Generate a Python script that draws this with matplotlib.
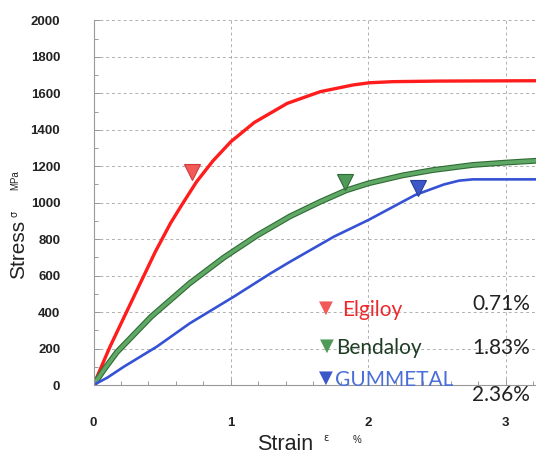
import matplotlib
matplotlib.use("Agg")
import matplotlib.pyplot as plt
from matplotlib.ticker import MultipleLocator

# values
elgiloy_strain = [0, 0.12, 0.24, 0.34, 0.45, 0.56, 0.64, 0.75, 0.87, 1.0, 1.17, 1.41, 1.65, 1.89, 2.01, 2.18, 2.5, 2.8, 3.22]
elgiloy_stress = [0, 210, 400, 558, 731, 887, 985, 1115, 1230, 1335, 1440, 1545, 1609, 1646, 1658, 1664, 1667, 1668, 1669]

bendaloy_strain = [0, 0.08, 0.17, 0.42, 0.70, 0.95, 1.19, 1.43, 1.65, 1.84, 2.0, 2.25, 2.47, 2.76, 3.0, 3.22]
bendaloy_stress = [0, 88, 180, 375, 558, 700, 820, 925, 1005, 1068, 1106, 1150, 1179, 1207, 1220, 1230]

gum_strain = [0, 0.1, 0.22, 0.46, 0.70, 1.02, 1.29, 1.43, 1.75, 2.0, 2.34, 2.55, 2.66, 2.76, 3.22]
gum_stress = [0, 40, 100, 210, 338, 484, 613, 676, 814, 905, 1042, 1100, 1121, 1128, 1128]

names = ["Elgiloy", "Bendaloy", "GUMMETAL"]
mark_strain = [0.72, 1.83, 2.36]
mark_stress = [1170, 1115, 1080]
mark_labels = ["0.71%", "1.83%", "2.36%"]

plt.rcParams["font.family"] = "Liberation Sans"
plt.rcParams["xtick.labelsize"] = 9.5
plt.rcParams["ytick.labelsize"] = 9.5
plt.rcParams["xtick.color"] = "#999999"
plt.rcParams["ytick.color"] = "#999999"
plt.rcParams["xtick.labelcolor"] = "#222222"
plt.rcParams["ytick.labelcolor"] = "#222222"

W, H = 536, 463
fig = plt.figure(figsize=(W / 100, H / 100), dpi=100)
ax = fig.add_axes([93.5 / W, 1 - 385 / H, 442.5 / W, 364.6 / H])


def px(x, y):
    return x / W, 1 - y / H


ax.set_xlim(0, 3.22)
ax.set_ylim(0, 2000)

ax.yaxis.set_major_locator(MultipleLocator(200))
ax.yaxis.set_minor_locator(MultipleLocator(100))
ax.xaxis.set_major_locator(MultipleLocator(1))
ax.xaxis.set_minor_locator(MultipleLocator(0.2))
ax.grid(True, which="major", color="#b0b0b0", lw=0.7, ls=(0, (3, 3)))
ax.set_axisbelow(True)

for s in ["top", "right"]:
    ax.spines[s].set_visible(False)
for s in ["left", "bottom"]:
    ax.spines[s].set_color("#999999")
    ax.spines[s].set_linewidth(0.8)
ax.tick_params(which="both", direction="in", width=0.7)
ax.tick_params(which="major", length=4)
ax.tick_params(which="minor", length=3)
ax.tick_params(axis="y", pad=24)
ax.tick_params(axis="x", pad=23)
ax.set_yticks(ax.get_yticks())
ax.set_yticklabels([f"{int(v)}" for v in ax.get_yticks()], fontweight="bold")
ax.set_xticks([0, 1, 2, 3])
ax.set_xticklabels(["0", "1", "2", "3"], fontweight="bold")
ax.set_xlim(0, 3.22)
ax.set_ylim(0, 2000)

# curves
ax.plot(elgiloy_strain, elgiloy_stress, color="#ff1c1c", lw=2.4, solid_capstyle="round")
ax.plot(bendaloy_strain, bendaloy_stress, color="#2f6b35", lw=4.2, solid_capstyle="round")
ax.plot(bendaloy_strain, bendaloy_stress, color="#5fa865", lw=2.6, solid_capstyle="round")
ax.plot(gum_strain, gum_stress, color="#3552d4", lw=1.9, solid_capstyle="round")

mark_face = ["#f25a5a", "#4f9a58", "#3c58c8"]
mark_edge = ["#d03a3a", "#2e6a35", "#25409a"]
for i in range(3):
    ax.plot(mark_strain[i], mark_stress[i], marker="v", ms=12,
            mfc=mark_face[i], mec=mark_edge[i], mew=0.8, ls="none")

# legend-like labels
font = "Lato"
text_col = ["#ec2a2e", "#1f3d22", "#4b6fd8"]
name_y = [310, 348, 380]
pct_y = [304, 348, 395]
tri_x = [326, 327, 326]
name_x = [342, 336, 335]
for i in range(3):
    fig.text(*px(tri_x[i], name_y[i] - 2), "\u25BC", color=mark_face[i], fontsize=13,
             family="DejaVu Sans", ha="center", va="center")
    fig.text(*px(name_x[i], name_y[i]), names[i], color=text_col[i], fontsize=15,
             family=font, ha="left", va="center")
    fig.text(*px(530, pct_y[i]), mark_labels[i], color="#222222", fontsize=15,
             family=font, ha="right", va="center")

# axis labels
fig.text(*px(19, 249), "Stress", rotation=90, fontsize=15, family="Liberation Sans",
         ha="center", va="center", color="#222222")
fig.text(*px(14, 214), "\u03C3", rotation=90, fontsize=7, family="DejaVu Sans",
         ha="center", va="center", color="#222222")
fig.text(*px(15, 180), "MPa", rotation=90, fontsize=7, family="Liberation Sans",
         ha="center", va="center", color="#222222")

fig.text(*px(285, 445), "Strain", fontsize=15.5, family="Liberation Sans",
         ha="center", va="center", color="#222222")
fig.text(*px(326, 438), "\u03B5", fontsize=7, family="DejaVu Sans",
         ha="center", va="center", color="#222222")
fig.text(*px(357, 440), "%", fontsize=7, family="Liberation Sans",
         ha="center", va="center", color="#222222")

fig.savefig("out.png", dpi=100)
